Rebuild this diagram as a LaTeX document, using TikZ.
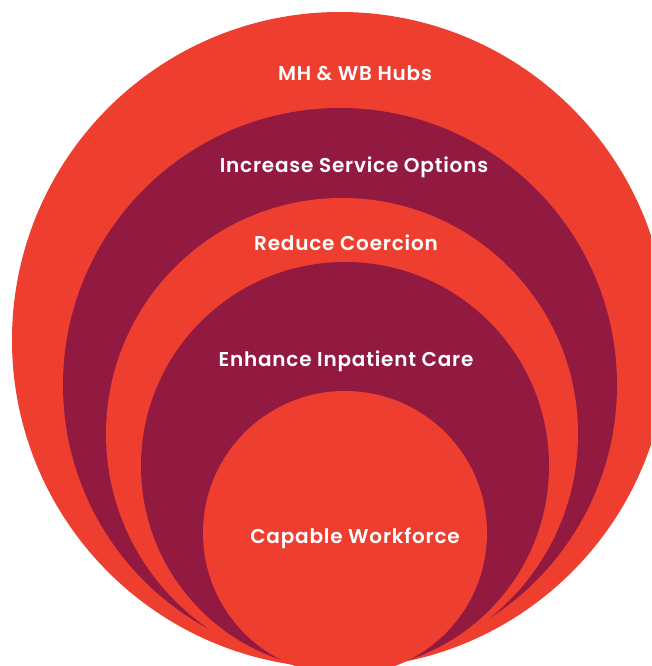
\documentclass[tikz,border=0pt]{standalone}
\usepackage{fontspec}
\setmainfont{Poppins}[BoldFont = Poppins SemiBold, LetterSpace = 4]
\definecolor{hubred}{HTML}{EE3E30}
\definecolor{hubplum}{HTML}{921A40}

\begin{document}
\begin{tikzpicture}[x = 1pt, y = -1pt,
  ring label/.style = {text = white, inner sep = 0pt,
  font = \bfseries\fontsize{20}{23}\selectfont}]
  \useasboundingbox (0, 0) rectangle (651, 666);
  \clip (0, 0) rectangle (651, 666);

  % nested rings, outermost first
  \fill[hubred] (340, 340) circle[radius = 328pt];
  \fill[hubplum] (340, 385) circle[radius = 277pt];
  \fill[hubred] (342, 434) circle[radius = 236pt];
  \fill[hubplum] (345, 466) circle[radius = 204pt];
  \fill[hubred] (345, 533) circle[radius = 142pt];

  \node[ring label] (hubs) at (355, 73) {MH \& WB Hubs};
  \node[ring label] (options) at (354, 167) {Increase Service Options};
  \node[ring label] (coercion) at (346, 243) {Reduce Coercion};
  \node[ring label] (inpatient) at (346, 361) {Enhance Inpatient Care};
  \node[ring label] (workforce) at (355, 538) {Capable Workforce};
\end{tikzpicture}
\end{document}
